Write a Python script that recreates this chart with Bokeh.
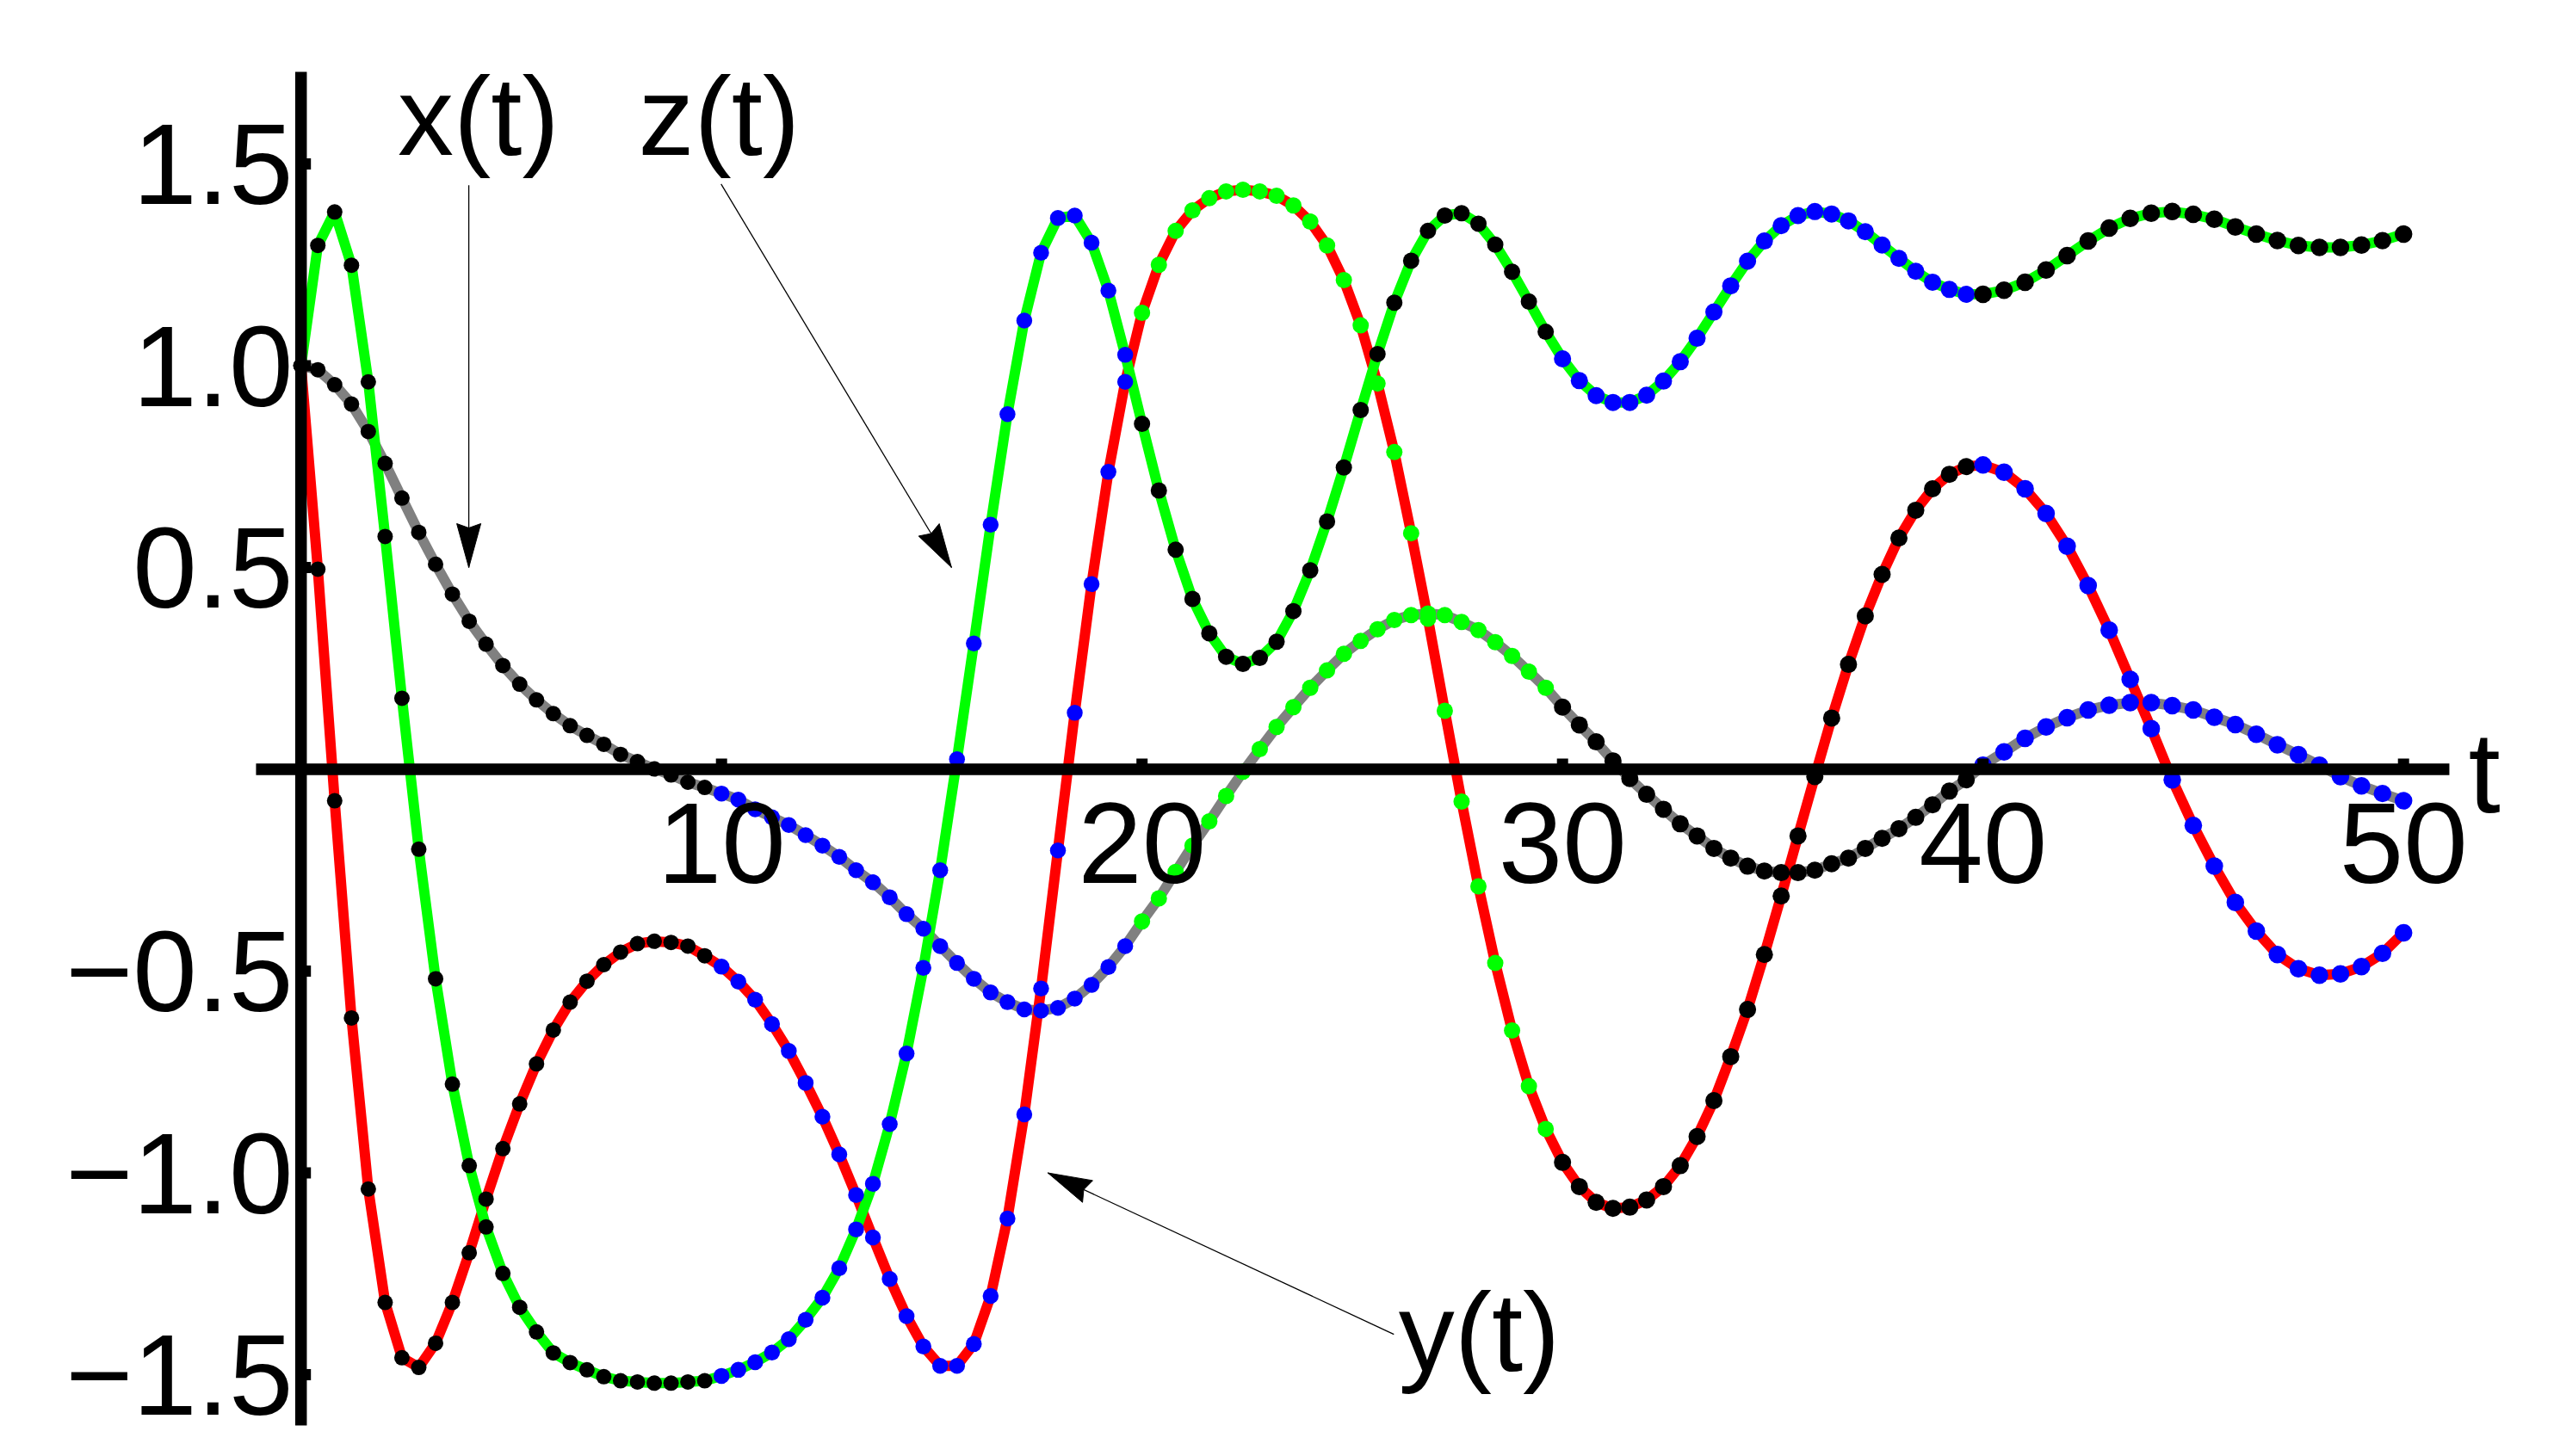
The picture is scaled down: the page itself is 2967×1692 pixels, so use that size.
import math
from bokeh.plotting import figure
from bokeh.models import Range1d
from bokeh.embed import file_html
from bokeh.resources import INLINE
from bokeh.core.properties import value

# ---------------- data ----------------
seg_t = [
    [0.0, 0.4, 0.8, 1.2, 1.6, 2.0, 2.4, 2.8, 3.2, 3.6, 4.0, 4.4, 4.8, 5.2, 5.6, 6.0, 6.4, 6.8, 7.2, 7.6, 8.0, 8.4, 8.8, 9.2, 9.6],
    [10.0, 10.4, 10.8, 11.2, 11.6, 12.0, 12.4, 12.8, 13.2, 13.6, 14.0, 14.4, 14.8, 15.2, 15.6, 16.0, 16.4, 16.8, 17.2, 17.6, 18.0, 18.4, 18.8, 19.2, 19.6],
    [20.0, 20.4, 20.8, 21.2, 21.6, 22.0, 22.4, 22.8, 23.2, 23.6, 24.0, 24.4, 24.8, 25.2, 25.6, 26.0, 26.4, 26.8, 27.2, 27.6, 28.0, 28.4, 28.8, 29.2, 29.6],
    [30.0, 30.4, 30.8, 31.2, 31.6, 32.0, 32.4, 32.8, 33.2, 33.6, 34.0, 34.4, 34.8, 35.2, 35.6, 36.0, 36.4, 36.8, 37.2, 37.6, 38.0, 38.4, 38.8, 39.2, 39.6],
    [40.0, 40.5, 41.0, 41.5, 42.0, 42.5, 43.0, 43.5, 44.0, 44.5, 45.0, 45.5, 46.0, 46.5, 47.0, 47.5, 48.0, 48.5, 49.0, 49.5, 50.0],
]

x_seg = [
    [1.000, 0.990, 0.953, 0.905, 0.837, 0.758, 0.672, 0.587, 0.508, 0.434, 0.367, 0.310, 0.257, 0.211, 0.172, 0.138, 0.108, 0.084, 0.062, 0.037, 0.019, 0.001, -0.014, -0.032, -0.045],
    [-0.060, -0.075, -0.099, -0.119, -0.138, -0.163, -0.189, -0.217, -0.250, -0.280, -0.317, -0.359, -0.395, -0.438, -0.480, -0.519, -0.553, -0.577, -0.595, -0.598, -0.591, -0.568, -0.534, -0.490, -0.438],
    [-0.377, -0.320, -0.254, -0.189, -0.129, -0.066, -0.006, 0.050, 0.105, 0.154, 0.202, 0.245, 0.286, 0.318, 0.347, 0.370, 0.382, 0.386, 0.382, 0.365, 0.345, 0.315, 0.281, 0.242, 0.202],
    [0.154, 0.110, 0.068, 0.021, -0.023, -0.062, -0.099, -0.135, -0.165, -0.196, -0.220, -0.240, -0.252, -0.256, -0.256, -0.250, -0.234, -0.220, -0.196, -0.171, -0.147, -0.119, -0.088, -0.054, -0.026],
    [0.010, 0.043, 0.077, 0.105, 0.128, 0.147, 0.159, 0.165, 0.165, 0.158, 0.147, 0.129, 0.111, 0.087, 0.061, 0.036, 0.010, -0.018, -0.041, -0.060, -0.078],
]

y_seg = [
    [1.000, 0.496, -0.078, -0.616, -1.040, -1.321, -1.458, -1.482, -1.422, -1.321, -1.198, -1.065, -0.940, -0.829, -0.730, -0.646, -0.577, -0.525, -0.484, -0.453, -0.432, -0.426, -0.429, -0.438, -0.462],
    [-0.489, -0.526, -0.571, -0.631, -0.698, -0.777, -0.861, -0.954, -1.055, -1.160, -1.263, -1.355, -1.430, -1.478, -1.478, -1.424, -1.305, -1.113, -0.855, -0.543, -0.201, 0.140, 0.459, 0.737, 0.960],
    [1.131, 1.250, 1.334, 1.385, 1.415, 1.432, 1.436, 1.432, 1.421, 1.397, 1.357, 1.298, 1.212, 1.100, 0.956, 0.786, 0.585, 0.373, 0.145, -0.080, -0.290, -0.480, -0.647, -0.785, -0.891],
    [-0.974, -1.034, -1.073, -1.088, -1.085, -1.067, -1.034, -0.982, -0.910, -0.821, -0.712, -0.595, -0.459, -0.314, -0.165, -0.018, 0.127, 0.260, 0.380, 0.483, 0.573, 0.642, 0.695, 0.731, 0.750],
    [0.754, 0.736, 0.695, 0.634, 0.553, 0.455, 0.345, 0.223, 0.101, -0.026, -0.139, -0.240, -0.330, -0.401, -0.459, -0.494, -0.510, -0.507, -0.489, -0.456, -0.405],
]

z_seg = [
    [1.000, 1.298, 1.381, 1.249, 0.960, 0.577, 0.176, -0.198, -0.519, -0.780, -0.982, -1.134, -1.249, -1.333, -1.394, -1.446, -1.470, -1.488, -1.505, -1.515, -1.518, -1.521, -1.521, -1.518, -1.515],
    [-1.503, -1.488, -1.469, -1.445, -1.412, -1.364, -1.309, -1.236, -1.140, -1.027, -0.879, -0.704, -0.492, -0.250, 0.025, 0.312, 0.606, 0.880, 1.112, 1.280, 1.366, 1.372, 1.305, 1.186, 1.027],
    [0.856, 0.691, 0.544, 0.422, 0.337, 0.279, 0.261, 0.276, 0.316, 0.392, 0.493, 0.614, 0.748, 0.890, 1.029, 1.156, 1.260, 1.334, 1.372, 1.378, 1.352, 1.300, 1.233, 1.159, 1.084],
    [1.017, 0.963, 0.926, 0.909, 0.909, 0.927, 0.962, 1.010, 1.068, 1.133, 1.198, 1.259, 1.309, 1.347, 1.372, 1.382, 1.376, 1.359, 1.332, 1.299, 1.266, 1.234, 1.207, 1.189, 1.177],
    [1.177, 1.187, 1.207, 1.237, 1.273, 1.309, 1.341, 1.365, 1.378, 1.382, 1.375, 1.363, 1.344, 1.326, 1.310, 1.298, 1.293, 1.293, 1.299, 1.310, 1.326],
]

# colour of the dots on each curve, one entry per time segment
x_dot_colors = ["#000000", "#0000FF", "#00FF00", "#000000", "#0000FF"]
y_dot_colors = ["#000000", "#0000FF", "#00FF00", "#000000", "#0000FF"]
z_dot_colors = ["#000000", "#0000FF", "#000000", "#0000FF", "#000000"]

x_ticks = [10, 20, 30, 40, 50]
x_tick_labels = ["10", "20", "30", "40", "50"]
y_ticks = [1.5, 1.0, 0.5, -0.5, -1.0, -1.5]
y_tick_labels = ["1.5", "1.0", "0.5", "\u22120.5", "\u22121.0", "\u22121.5"]

# annotation labels with arrows: (text, label pos, arrow tail, arrow tip)
labels = [
    ("x(t)", (2.30, 1.518), (3.99, 1.447), (3.99, 0.50)),
    ("z(t)", (8.02, 1.518), (9.99, 1.450), (15.47, 0.50)),
    ("y(t)", (26.10, -1.494), (25.99, -1.400), (17.76, -1.00)),
]

# ---------------- layout ----------------
W, H = 2962, 1688
MARGIN = 0                 # bokeh's page template removes the body margin
X0, SX = 349.2, 48.85      # page px of t=0, px per unit t
Y0, SY = 893.5, 469.0      # page px of value 0, px per unit value

t_left = (MARGIN - X0) / SX
t_right = (MARGIN + W - X0) / SX
v_top = (Y0 - MARGIN) / SY
v_bot = (Y0 - (MARGIN + H)) / SY

p = figure(width=W, height=H, x_range=Range1d(t_left, t_right), y_range=Range1d(v_bot, v_top),
           output_backend="svg", toolbar_location=None, min_border=0,
           x_axis_type=None, y_axis_type=None, outline_line_color=None,
           background_fill_color="white", border_fill_color="white")
p.grid.visible = False

FONT = value("Liberation Sans")
LABEL_PX = 130
TICK_PX = 134
BASE_FIX = 0.36            # empirical baseline correction (em)
lab_fix = BASE_FIX * LABEL_PX / SY
tick_fix = BASE_FIX * TICK_PX / SY

t_all = [t for seg in seg_t for t in seg]

def flat(segs):
    return [v for seg in segs for v in seg]

def per_seg(segs, vals):
    out = []
    for seg, c in zip(segs, vals):
        out += [c] * len(seg)
    return out

dot_sizes = [18, 18.5, 19, 20, 20.5]

# curves
p.line(t_all, flat(x_seg), line_color="#808080", line_width=12, line_join="round")
p.line(t_all, flat(y_seg), line_color="#FF0000", line_width=12, line_join="round")
p.line(t_all, flat(z_seg), line_color="#00FF00", line_width=12, line_join="round")

# dots
for segs, cols in ((x_seg, x_dot_colors), (y_seg, y_dot_colors), (z_seg, z_dot_colors)):
    p.scatter(t_all, flat(segs), marker="circle", size=per_seg(segs, dot_sizes),
              fill_color=per_seg(segs, cols), line_color=None)

# annotation labels and arrows
for txt, (lt, lv), (at, av), (bt, bv) in labels:
    p.text(x=[lt], y=[lv + lab_fix], text=[txt], text_font=FONT, text_font_size=f"{LABEL_PX}px",
           text_align="left", text_baseline="alphabetic", text_color="black")
    p.line([at, bt], [av, bv], line_color="black", line_width=1.3)
    # arrow head (built in pixel space, converted back to data)
    tx, ty = X0 + bt * SX, Y0 - bv * SY
    sx, sy = X0 + at * SX, Y0 - av * SY
    dx, dy = tx - sx, ty - sy
    n = math.hypot(dx, dy)
    ux, uy = dx / n, dy / n
    px, py = -uy, ux
    L, HW, NOTCH = 51.0, 14.0, 5.0
    bx, by = tx - ux * L, ty - uy * L
    pts = [(tx, ty), (bx + px * HW, by + py * HW), (tx - ux * (L - NOTCH), ty - uy * (L - NOTCH)),
           (bx - px * HW, by - py * HW)]
    p.patch([(q[0] - X0) / SX for q in pts], [(Y0 - q[1]) / SY for q in pts],
            fill_color="black", line_color="black", line_width=1)

# axes (drawn on top of the curves)
AXW = 13.5
p.segment(x0=[-1.07], y0=[0], x1=[51.09], y1=[0], line_color="black", line_width=AXW)
p.segment(x0=[0], y0=[-1.626], x1=[0], y1=[1.728], line_color="black", line_width=AXW)
p.segment(x0=x_ticks, y0=[0] * len(x_ticks), x1=x_ticks, y1=[12.5 / SY] * len(x_ticks),
          line_color="black", line_width=13)
p.segment(x0=[0] * len(y_ticks), y0=y_ticks, x1=[11.5 / SX] * len(y_ticks), y1=y_ticks,
          line_color="black", line_width=13)

# tick labels
p.text(x=x_ticks, y=[-0.2868 + tick_fix] * len(x_ticks), text=x_tick_labels, text_font=FONT,
       text_font_size=f"{TICK_PX}px", text_align="center", text_baseline="alphabetic", text_color="black")
p.text(x=[-0.19] * len(y_ticks), y=[v - 0.104 + tick_fix for v in y_ticks], text=y_tick_labels, text_font=FONT,
       text_font_size=f"{TICK_PX}px", text_align="right", text_baseline="alphabetic", text_color="black")
p.text(x=[51.54], y=[-0.110 + tick_fix], text=["t"], text_font=FONT, text_font_size=f"{TICK_PX}px",
       text_align="left", text_baseline="alphabetic", text_color="black")

open("out.html", "w").write(file_html(p, INLINE))
